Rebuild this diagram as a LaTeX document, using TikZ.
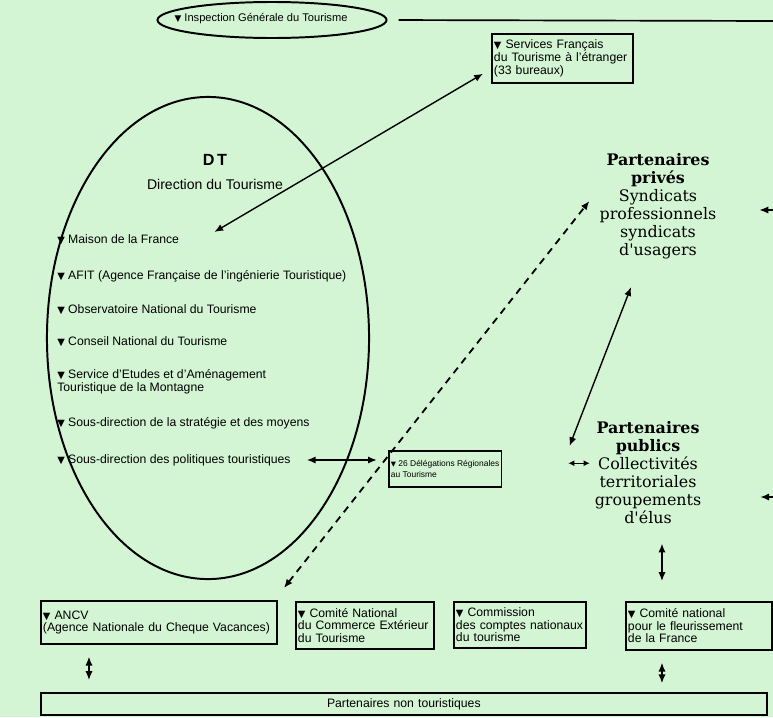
\documentclass[tikz,border=0pt]{standalone}
\usepackage{fontspec}
\usepackage{graphicx}
\setmainfont{Liberation Sans}
\newfontfamily\partnerfont{DejaVu Serif}
\newfontfamily\symbfont{DejaVu Sans}
\usetikzlibrary{arrows.meta,positioning,shapes.geometric,calc}
\definecolor{mintbg}{HTML}{D4F5D4}
\newcommand{\tri}{{\symbfont\scalebox{0.8}{▼}}\ }
\newcommand{\smallsans}{\fontsize{8.7}{9}\selectfont}
\tikzset{
  ovalbox/.style={
    draw,
    ellipse,
    line width=1.4pt,
    inner sep=0pt
  },
  infobox/.style={
    draw,
    line width=1.2pt,
    anchor=north west,
    inner xsep=1.5pt,
    inner ysep=2pt,
    align=left,
    font=\smallsans
  },
  itemtext/.style={
    anchor=west,
    align=left,
    inner sep=0pt,
    font=\smallsans
  },
  partner/.style={
    align=center,
    inner sep=0pt,
    font=\partnerfont\fontsize{11.3}{12.8}\selectfont
  },
  dbl/.style={
    {Latex[length=2.2mm,width=1.8mm]}-{Latex[length=2.2mm,width=1.8mm]},
    line width=1pt
  },
  shortdbl/.style={
    {Latex[length=1.5mm,width=1.5mm]}-{Latex[length=1.5mm,width=1.5mm]},
    line width=1pt
  },
  single/.style={
    -{Latex[length=2.2mm,width=1.8mm]},
    line width=1pt
  },
  dashdbl/.style={
    dbl,
    line width=1.3pt,
    dash pattern=on 5pt off 4pt
  }
}

\begin{document}
\begin{tikzpicture}[x=0.025cm, y=-0.025cm]
\fill[mintbg] (0,0) rectangle (773,717);
\useasboundingbox (0,0) rectangle (773,717);

% top line
\node[ovalbox, minimum width=5.725cm, minimum height=0.9cm] (insp) at (272,20) {};
\node[itemtext, anchor=center, font=\fontsize{7.9}{9}\selectfont] (insptext) at (261,19) {\tri Inspection Générale du Tourisme};
\coordinate (topedge) at (773,21);
\draw[line width=1.2pt, shorten <=0.28cm] (insp.east) -- (topedge);
\node[infobox, text width=3.42cm, minimum height=1.225cm] (sft) at (491,33) {\tri Services Français\\du Tourisme à l'étranger\\(33 bureaux)};

% DT
\node[ovalbox, minimum width=8.05cm, minimum height=12.05cm] (dt) at (208,338) {};
\node[font=\bfseries\fontsize{11.5}{12}\selectfont] (dtname) at (215,160) {D\,T};
\node[font=\fontsize{10}{11}\selectfont, below=0.1cm of dtname] (dtfull) {Direction du Tourisme};
\node[itemtext] (maison) at (57,240) {\tri Maison de la France};
\node[itemtext] (afit) at (57,276) {\tri AFIT (Agence Française de l'ingénierie Touristique)};
\node[itemtext] (obs) at (57,310) {\tri Observatoire National du Tourisme};
\node[itemtext] (cnt) at (57,342) {\tri Conseil National du Tourisme};
\node[itemtext] (seatm) at (57,382) {\tri Service d'Etudes et d'Aménagement\\Touristique de la Montagne};
\node[itemtext] (sdsm) at (57,423) {\tri Sous-direction de la stratégie et des moyens};
\node[itemtext] (sdpt) at (57,460) {\tri Sous-direction des politiques touristiques};

% regions and partners
\node[infobox, font=\fontsize{6}{8}\selectfont, minimum width=2.65cm, minimum height=0.9cm] (drt) at (388,450) {\tri 26 Délégations Régionales\\au Tourisme};
\node[partner] (privs) at (658,206) {\textbf{Partenaires}\\\textbf{privés}\\Syndicats\\professionnels\\syndicats\\d'usagers};
\node[partner] (pubs) at (648,473) {\textbf{Partenaires}\\\textbf{publics}\\Collectivités\\territoriales\\groupements\\d'élus};
\coordinate (privin) at (773,210);
\coordinate (pubin) at (773,497);

% bottom row
\node[infobox, text width=5.8cm, minimum height=1.075cm] (ancv) at (40,600) {\tri ANCV\\(Agence Nationale du Cheque Vacances)};
\node[infobox, text width=3.35cm, minimum height=1.175cm] (cncet) at (295,601) {\tri Comité National\\du Commerce Extérieur\\du Tourisme};
\node[infobox, text width=3.2cm, minimum height=1.15cm] (ccnt) at (453,601) {\tri Commission\\des comptes nationaux\\du tourisme};
\node[infobox, text width=3.55cm, minimum height=1.2cm] (cnff) at (625,601) {\tri Comité national\\pour le fleurissement\\de la France};
\node[infobox, align=center, text width=18.04cm, minimum height=0.55cm] (pnt) at (40,692) {Partenaires non touristiques};

% connectors
\draw[dbl] ([shift={(35,-8)}]maison.east) -- ([shift={(-8,-10)}]sft.south west);
\draw[dbl, shorten <=0.4cm, shorten >=0.28cm] (sdpt.east) -- (sdpt.east -| drt.west);
\draw[shortdbl, shorten <=1.65cm, shorten >=0.12cm] ([yshift=4pt]drt.east) -- ([yshift=4pt]drt.east -| pubs.west);
\draw[dbl] ([shift={(-25,-27)}]pubs.west) -- ([shift={(-27,28)}]privs.south);
\draw[dashdbl] ([shift={(6,-12)}]ancv.north east) -- ([shift={(-10,-5)}]privs.west);
\draw[single, shorten >=1.07cm] (privin) -- (privin -| privs.east);
\draw[single, shorten >=1.47cm] (pubin) -- (pubin -| pubs.east);
\draw[dbl, shorten <=0.48cm, shorten >=0.5cm] ($(cnff.north |- pubs.south)+(-37,0)$) -- ($(cnff.north)+(-37,0)$);
\draw[dbl, shorten <=0.3cm, shorten >=0.3cm] ($(ancv.south)+(-70,0)$) -- ($(ancv.south |- pnt.north)+(-70,0)$);
\draw[dbl, shorten <=0.3cm, shorten >=0.22cm] ($(cnff.south)+(-37,0)$) -- ($(cnff.south |- pnt.north)+(-37,0)$);
\end{tikzpicture}
\end{document}
